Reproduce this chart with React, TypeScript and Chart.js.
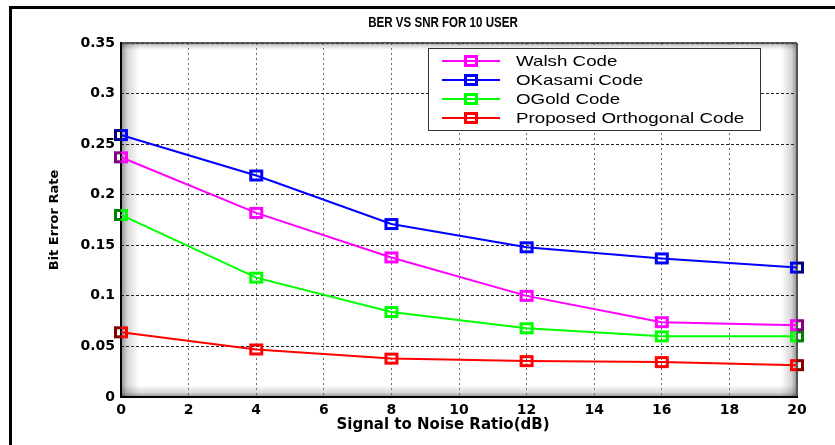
import React, { useEffect, useRef } from "react";
import { Chart, registerables } from "chart.js";

Chart.register(...registerables);

const TITLE = "BER VS SNR FOR 10 USER";
const X_TITLE = "Signal to Noise Ratio(dB)";
const Y_TITLE = "Bit Error Rate";

const SNR = [0, 4, 8, 12, 16, 20];
const X_TICKS = [0, 2, 4, 6, 8, 10, 12, 14, 16, 18, 20];
const Y_TICKS = [0, 0.05, 0.1, 0.15, 0.2, 0.25, 0.3, 0.35];

const WALSH = [0.237, 0.182, 0.138, 0.1, 0.074, 0.071];
const OKASAMI = [0.259, 0.219, 0.171, 0.148, 0.137, 0.128];
const OGOLD = [0.18, 0.118, 0.084, 0.068, 0.06, 0.06];
const PROPOSED = [0.064, 0.047, 0.038, 0.0355, 0.0345, 0.0315];

const SERIES_NAMES = ["Walsh Code", "OKasami Code", "OGold Code", "Proposed Orthogonal Code"];
const COLORS = ["#ff00ff", "#0000ff", "#00ff00", "#ff0000"];
const DARK = ["#800080", "#000080", "#008000", "#800000"];

function makeMarker(color: string, dark: string, side: "none" | "left" | "right") {
  const c = document.createElement("canvas");
  c.width = 16;
  c.height = 14;
  const g = c.getContext("2d")!;
  let stroke: any = color;
  if (side !== "none") {
    const grad = g.createLinearGradient(1, 0, 15, 0);
    if (side === "left") {
      grad.addColorStop(0, dark);
      grad.addColorStop(0.45, dark);
      grad.addColorStop(0.6, color);
      grad.addColorStop(1, color);
    } else {
      grad.addColorStop(0, color);
      grad.addColorStop(0.4, color);
      grad.addColorStop(0.55, dark);
      grad.addColorStop(1, dark);
    }
    stroke = grad;
  }
  g.strokeStyle = stroke;
  g.lineWidth = 3;
  g.strokeRect(2.5, 2.5, 11, 9);
  return c;
}

export default function App() {
  const ref = useRef<HTMLCanvasElement>(null);

  useEffect(() => {
    const canvas = ref.current;
    if (!canvas) return;
    const seriesValues = [WALSH, OKASAMI, OGOLD, PROPOSED];
    const markers = COLORS.map((c, i) => ({
      normal: makeMarker(c, DARK[i], "none"),
      left: makeMarker(c, DARK[i], "left"),
      right: makeMarker(c, DARK[i], "right"),
    }));

    const framePlugin = {
      id: "matlabFrame",
      beforeDraw(chart: any) {
        const { ctx, chartArea: a } = chart;
        ctx.save();
        ctx.fillStyle = "#ffffff";
        ctx.fillRect(0, 0, chart.width, chart.height);
        // outer black frame (top and left)
        ctx.fillStyle = "#000000";
        ctx.fillRect(9, 6, 3, chart.height - 6);
        ctx.fillRect(9, 6, chart.width - 9, 3);
        // plot area shading
        ctx.beginPath();
        ctx.rect(a.left, a.top, a.right - a.left, a.bottom - a.top);
        ctx.clip();
        ctx.globalCompositeOperation = "multiply";
        const edges: [number, number, number, number, number, number, number, number][] = [
          [a.left, 0, a.left + 18, 0, a.left, a.top, 18, a.bottom - a.top],
          [a.right, 0, a.right - 16, 0, a.right - 16, a.top, 16, a.bottom - a.top],
          [0, a.bottom, 0, a.bottom - 12, a.left, a.bottom - 12, a.right - a.left, 12],
          [0, a.top, 0, a.top + 7, a.left, a.top, a.right - a.left, 7],
        ];
        edges.forEach(([x0, y0, x1, y1, rx, ry, rw, rh]) => {
          const gr = ctx.createLinearGradient(x0, y0, x1, y1);
          gr.addColorStop(0, "#8f8f8f");
          gr.addColorStop(0.35, "#d6d6d6");
          gr.addColorStop(1, "#ffffff");
          ctx.fillStyle = gr;
          ctx.fillRect(rx, ry, rw, rh);
        });
        ctx.restore();
      },
      beforeDatasetsDraw(chart: any) {
        const { ctx, chartArea: a } = chart;
        ctx.save();
        ctx.fillStyle = "#555555";
        ctx.fillRect(a.left, a.top - 1, a.right - a.left, 1.5);
        ctx.fillRect(a.right - 1, a.top, 2, a.bottom - a.top);
        ctx.fillStyle = "#000000";
        ctx.fillRect(a.left - 1, a.top - 1, 2, a.bottom - a.top + 2);
        ctx.fillRect(a.left - 1, a.bottom - 1, a.right - a.left + 2, 2);
        ctx.restore();
      },
      afterDraw(chart: any) {
        const { ctx } = chart;
        ctx.save();
        // title (condensed bold)
        ctx.fillStyle = "#000000";
        ctx.textAlign = "center";
        ctx.textBaseline = "middle";
        ctx.save();
        ctx.translate(443, 23);
        ctx.scale(0.77, 1);
        ctx.font = 'bold 15px "Liberation Sans", Arial, sans-serif';
        ctx.fillText(TITLE, 0, 0);
        ctx.restore();
        // x axis title
        ctx.font = 'bold 15px "DejaVu Sans", sans-serif';
        ctx.fillText(X_TITLE, 443, 425);
        // legend
        const lx = 428, ly = 48, lw = 332, lh = 82;
        ctx.fillStyle = "#ffffff";
        ctx.fillRect(lx, ly, lw, lh);
        ctx.strokeStyle = "#333333";
        ctx.lineWidth = 1;
        ctx.strokeRect(lx + 0.5, ly + 0.5, lw, lh);
        const rows = [61, 80, 99, 118];
        chart.data.datasets.forEach((ds: any, i: number) => {
          const y = rows[i];
          ctx.strokeStyle = ds.borderColor;
          ctx.lineWidth = 2;
          ctx.beginPath();
          ctx.moveTo(442, y);
          ctx.lineTo(500, y);
          ctx.stroke();
          ctx.drawImage(markers[i].normal, 471 - 8, y - 7);
          ctx.save();
          ctx.translate(516, y + 1);
          ctx.scale(1.25, 1);
          ctx.fillStyle = "#000000";
          ctx.font = '15px "Liberation Sans", Arial, sans-serif';
          ctx.textAlign = "left";
          ctx.textBaseline = "middle";
          ctx.fillText(ds.label, 0, 0);
          ctx.restore();
        });
        ctx.restore();
      },
    };

    const chart = new Chart(canvas, {
      type: "line",
      data: {
        datasets: seriesValues.map((vals, i) => ({
          label: SERIES_NAMES[i],
          data: SNR.map((x, j) => ({ x, y: vals[j] })),
          borderColor: COLORS[i],
          backgroundColor: COLORS[i],
          borderWidth: 2,
          tension: 0,
          clip: false as any,
          pointStyle: (ctx: any) =>
            ctx.dataIndex === 0
              ? markers[i].left
              : ctx.dataIndex === SNR.length - 1
              ? markers[i].right
              : markers[i].normal,
          pointRadius: 7,
          pointHoverRadius: 7,
        })),
      },
      options: {
        responsive: false,
        animation: false,
        events: [],
        layout: { padding: { top: 43, right: 38, left: 0, bottom: 0 } },
        plugins: {
          legend: { display: false },
          title: { display: false },
          tooltip: { enabled: false },
        },
        scales: {
          x: {
            type: "linear",
            min: 0,
            max: 20,
            afterFit: (s: any) => {
              s.height = 48;
            },
            afterBuildTicks: (s: any) => {
              s.ticks = X_TICKS.map((v) => ({ value: v }));
            },
            ticks: {
              padding: 5,
              color: "#000000",
              font: { family: '"DejaVu Sans", sans-serif', weight: "bold", size: 14 },
              maxRotation: 0,
              autoSkip: false,
            },
            grid: {
              color: "#6a6a6a",
              lineWidth: 1,
              drawTicks: false,
            } as any,
            border: { display: false, dash: [2, 3] } as any,
            title: { display: false },
          },
          y: {
            type: "linear",
            min: 0,
            max: 0.35,
            afterFit: (s: any) => {
              s.width = 121;
            },
            afterBuildTicks: (s: any) => {
              s.ticks = Y_TICKS.map((v) => ({ value: v }));
            },
            ticks: {
              padding: 6,
              color: "#000000",
              font: { family: '"DejaVu Sans", sans-serif', weight: "bold", size: 14 },
              callback: (v: any) => String(Math.round(Number(v) * 100) / 100),
            },
            grid: {
              color: "#222222",
              lineWidth: 1,
              drawTicks: false,
            },
            border: { display: false, dash: [3, 2] } as any,
            title: {
              display: true,
              text: Y_TITLE,
              color: "#000000",
              font: { family: '"DejaVu Sans", sans-serif', weight: "bold", size: 13 },
              padding: { top: 47, bottom: 0 },
            },
          },
        },
      },
      plugins: [framePlugin],
    });

    return () => chart.destroy();
  }, []);

  return (
    <div style={{ position: "absolute", left: 0, top: 0, width: 835, height: 445, background: "#ffffff" }}>
      <canvas ref={ref} width={835} height={445} style={{ display: "block", width: 835, height: 445 }} />
    </div>
  );
}
